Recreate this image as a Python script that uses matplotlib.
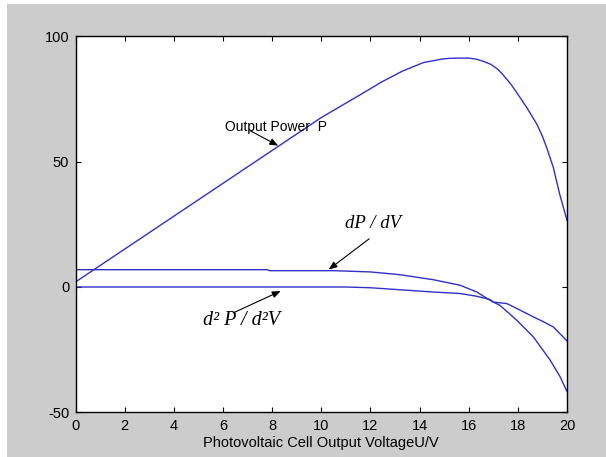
import matplotlib.pyplot as plt
from matplotlib.patches import Rectangle

# Output power P against cell voltage.
v_power = [0, 2, 4, 6, 8, 10, 12, 12.4, 13.3, 14.15, 14.9, 15.2, 15.6, 16.0, 16.3,
           16.6, 16.9, 17.2, 17.4, 17.7, 17.95, 18.36, 18.77, 19.0, 19.17, 19.44, 19.7, 20]
power = [2, 15.1, 28.2, 41.3, 54.4, 67.5, 79, 81.4, 86, 89.4, 90.8, 91.1, 91.2, 91.2, 90.8,
         89.9, 88.7, 86.6, 84.5, 81.0, 77.5, 71.5, 64.9, 60.0, 55.6, 47.7, 37, 26.5]

# First derivative dP/dV.
v_dp = [0, 7.8, 7.9, 10.5, 12, 13.2, 14.56, 15.65, 16.33, 16.87, 17.0, 17.55, 17.82,
        18.63, 19.05, 19.44, 20]
dp = [6.9, 6.9, 6.5, 6.5, 6.0, 4.9, 2.9, 0.7, -2, -5.3, -6, -6.6, -7.9,
      -11.9, -13.9, -15.9, -21.5]

# Second derivative d2P/d2V.
v_d2p = [0, 11, 12, 13.2, 14.56, 15.65, 16.33, 16.87, 17.0, 17.27, 17.95, 18.63, 19.31, 19.72, 20]
d2p = [0, 0, -0.3, -1.1, -2, -2.6, -3.7, -5, -6, -7.3, -13.2, -19.9, -29.1, -35.8, -41.7]

x_ticks = list(range(0, 21, 2))
y_ticks = [-50, 0, 50, 100]

plt.rcParams['font.family'] = ['Liberation Sans', 'DejaVu Sans']
plt.rcParams['axes.unicode_minus'] = False

fig = plt.figure(figsize=(6.06, 4.57), dpi=100, facecolor='white')
# Grey MATLAB-style figure panel (thin white border top/left as in the scan).
fig.patches.append(Rectangle((7 / 606, 0), 1, (457 - 4) / 457, transform=fig.transFigure,
                             facecolor='#cccccc', edgecolor='none', zorder=-1))

ax = fig.add_axes([0.1246, 0.0974, 0.8111, 0.8238])
ax.set_facecolor('white')

line_color = '#3030c8'
ax.plot(v_power, power, color=line_color, lw=1.0)
ax.plot(v_dp, dp, color=line_color, lw=1.0)
ax.plot(v_d2p, d2p, color=line_color, lw=1.0)

ax.set_xlim(0, 20)
ax.set_ylim(-50, 100)
ax.set_xticks(x_ticks)
ax.set_yticks(y_ticks)
ax.tick_params(direction='in', top=True, right=True, length=3.6, width=0.8,
               labelsize=10.5, pad=4.5)
for spine in ax.spines.values():
    spine.set_linewidth(1.0)

ax.set_xlabel('Photovoltaic Cell Output VoltageU/V', fontsize=10.5, labelpad=2)

arrow = dict(arrowstyle='-|>,head_length=0.5,head_width=0.2', lw=0.8, color='k',
             shrinkA=0, shrinkB=0)

# Labels with arrows.
ax.text(6.08, 63.6, 'Output Power  P', fontsize=10, ha='left', va='center')
ax.annotate('', xy=(8.25, 56.3), xytext=(7.1, 62.3), arrowprops=arrow)

ax.text(12.1, 25.2, 'dP / dV', fontsize=13.5, family='Liberation Serif', style='italic',
        ha='center', va='center')
ax.annotate('', xy=(10.3, 6.95), xytext=(11.95, 19.2), arrowprops=arrow)

ax.text(6.75, -13.2, 'd² P / d²V', fontsize=14.5, family='Liberation Serif', style='italic',
        ha='center', va='center')
ax.annotate('', xy=(8.35, -1.6), xytext=(6.42, -10.3), arrowprops=arrow)

fig.savefig('out.png', dpi=100, facecolor=fig.get_facecolor())
